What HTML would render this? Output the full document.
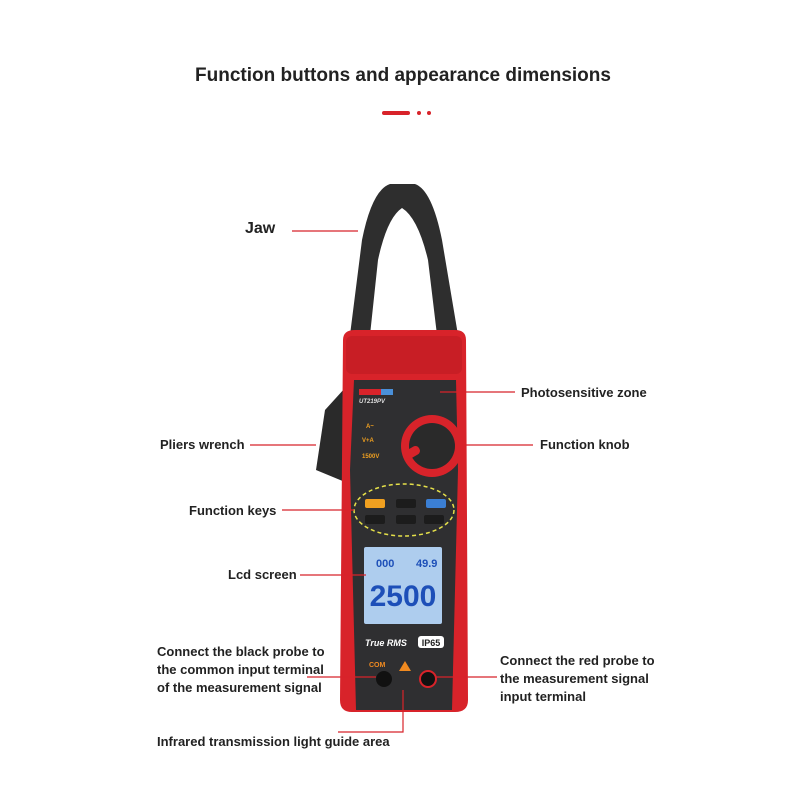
<!DOCTYPE html>
<html><head><style>
body{margin:0;background:#fff;}
svg{display:block;}
text{font-family:"Liberation Sans",sans-serif;font-weight:bold;}
</style></head><body>
<svg width="800" height="800" viewBox="0 0 800 800">
<rect width="800" height="800" fill="#fff"/>
<g fill="#222">
<text x="403" y="81" font-size="19" text-anchor="middle">Function buttons and appearance dimensions</text>
</g>
<rect x="382" y="111" width="28" height="4" rx="2" fill="#d8232a"/>
<circle cx="419" cy="113" r="2" fill="#d8232a"/><circle cx="429" cy="113" r="2" fill="#d8232a"/>

<!-- jaw -->
<path d="M350 335 L362 240 Q372 190 390 184 L415 184 Q432 190 442 240 L458 335 L437 335 L428 260 Q418 218 402 208 Q387 218 378 260 L370 335 Z" fill="#2e2e2e"/>
<!-- pliers wrench -->
<path d="M345 388 L325 410 L316 470 L345 482 Z" fill="#2a2a2a"/>
<!-- body -->
<path d="M343 340 Q343 330 355 330 L455 330 Q466 330 466 340 L468 700 Q468 712 455 712 L352 712 Q340 712 340 700 Z" fill="#d8232a"/>
<rect x="346" y="336" width="116" height="38" rx="6" fill="#c81e25"/>
<path d="M354 380 L456 380 L458 470 L452 710 L356 710 L350 470 Z" fill="#2f2f31"/>
<rect x="359" y="389" width="22" height="6" fill="#d8232a"/><rect x="381" y="389" width="12" height="6" fill="#4a90d9"/>
<text x="359" y="403" font-size="6" fill="#ddd" font-style="italic">UT219PV</text>
<text x="366" y="428" font-size="6" fill="#f0a020">A~</text>
<text x="362" y="442" font-size="6" fill="#f0a020">V+A</text>
<text x="362" y="458" font-size="6" fill="#f0a020">1500V</text>
<!-- knob -->
<circle cx="432" cy="446" r="31" fill="#d8232a"/>
<circle cx="432" cy="446" r="23" fill="#2a2a2a"/>
<rect x="404" y="448" width="16" height="9" rx="4" fill="#d8232a" transform="rotate(-30 412 452)"/>
<!-- buttons -->
<rect x="365" y="499" width="20" height="9" rx="2" fill="#f0a020"/>
<rect x="396" y="499" width="20" height="9" rx="2" fill="#1c1c1c"/>
<rect x="426" y="499" width="20" height="9" rx="2" fill="#3b7fd4"/>
<rect x="365" y="515" width="20" height="9" rx="2" fill="#1c1c1c"/>
<rect x="396" y="515" width="20" height="9" rx="2" fill="#1c1c1c"/>
<rect x="424" y="515" width="20" height="9" rx="2" fill="#1c1c1c"/>
<ellipse cx="404" cy="510" rx="50" ry="26" fill="none" stroke="#e5e04a" stroke-width="1.5" stroke-dasharray="4 3"/>
<!-- lcd -->
<rect x="364" y="547" width="78" height="77" rx="2" fill="#aecdee"/>
<text x="403" y="606" font-size="30" text-anchor="middle" fill="#1d4fb8" font-weight="normal">2500</text>
<text x="376" y="567" font-size="11" fill="#1d4fb8" font-weight="normal">000</text>
<text x="416" y="567" font-size="11" fill="#1d4fb8" font-weight="normal">49.9</text>
<text x="365" y="646" font-size="9" fill="#fff" font-style="italic">True RMS</text>
<rect x="418" y="636" width="26" height="12" rx="3" fill="#fff"/>
<text x="431" y="646" font-size="9" fill="#222" text-anchor="middle">IP65</text>
<text x="369" y="667" font-size="7" fill="#f08a20">COM</text>
<circle cx="384" cy="679" r="8" fill="#111"/>
<circle cx="428" cy="679" r="8" fill="#111" stroke="#d8232a" stroke-width="2"/>
<polygon points="405,661 399,671 411,671" fill="#f08a20"/>

<!-- leaders -->
<g stroke="#d8232a" stroke-width="1.2" fill="none">
<line x1="292" y1="231" x2="358" y2="231"/>
<line x1="440" y1="392" x2="515" y2="392"/>
<line x1="250" y1="445" x2="316" y2="445"/>
<line x1="466" y1="445" x2="533" y2="445"/>
<line x1="282" y1="510" x2="354" y2="510"/>
<line x1="300" y1="575" x2="366" y2="575"/>
<line x1="307" y1="677" x2="376" y2="677"/>
<line x1="436" y1="677" x2="497" y2="677"/>
<polyline points="338,732 403,732 403,690"/>
</g>
<g font-size="13" fill="#222">
<text x="245" y="233" font-size="16">Jaw</text>
<text x="521" y="397">Photosensitive zone</text>
<text x="160" y="449">Pliers wrench</text>
<text x="540" y="449">Function knob</text>
<text x="189" y="515">Function keys</text>
<text x="228" y="579">Lcd screen</text>
<text x="157" y="656">Connect the black probe to</text>
<text x="157" y="674">the common input terminal</text>
<text x="157" y="692">of the measurement signal</text>
<text x="500" y="665">Connect the red probe to</text>
<text x="500" y="683">the measurement signal</text>
<text x="500" y="701">input terminal</text>
<text x="157" y="746">Infrared transmission light guide area</text>
</g>
</svg>
</body></html>
